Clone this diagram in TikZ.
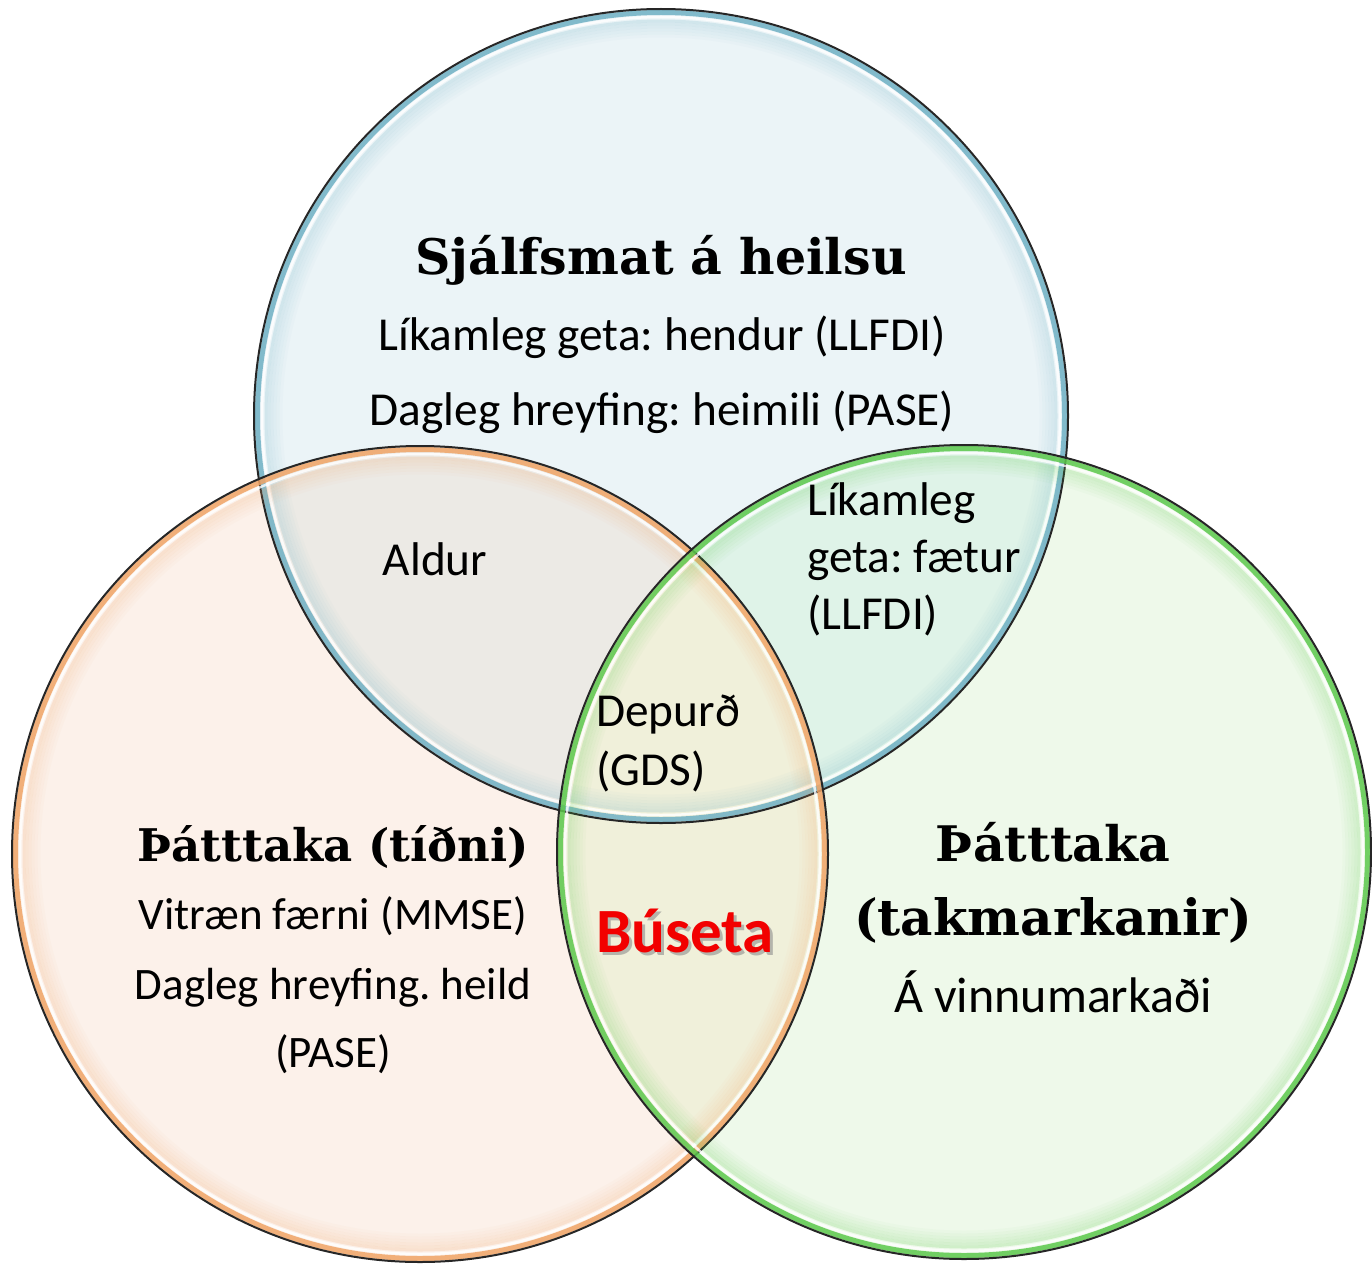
\documentclass[tikz,border=0pt]{standalone}
\usepackage{fontspec}
\setmainfont{Carlito}
\newfontfamily\headfont{DejaVu Serif}
\usepackage{tikz}
\usetikzlibrary{calc}
\frenchspacing

\definecolor{blueFill}{HTML}{EBF4F7}
\definecolor{orangeFill}{HTML}{FCF1EA}
\definecolor{greenFill}{HTML}{EEF9EA}
\definecolor{boFill}{HTML}{ECEAE5}
\definecolor{bgFill}{HTML}{DFF3E8}
\definecolor{ogFill}{HTML}{F0F0DA}
\definecolor{allFill}{HTML}{E3EAD6}
\definecolor{rimBlue}{HTML}{6FB0C4}
\definecolor{rimOrange}{HTML}{F0A466}
\definecolor{rimGreen}{HTML}{5CC84C}
\definecolor{busetaRed}{HTML}{F20000}

\begin{document}
\begin{tikzpicture}[x=1pt,y=-1pt,
  head/.style={font=\headfont\bfseries\fontsize{49}{58}\selectfont,anchor=base,inner sep=0pt},
  body/.style={font=\fontsize{47.3}{56}\selectfont,anchor=base,inner sep=0pt},
  bodyleft/.style={body,anchor=base west}]
\useasboundingbox (0,0) rectangle (1372,1268);

% the three circles
\fill[blueFill] (661,416) circle[radius=407];
\fill[orangeFill] (420,854) circle[radius=408];
\fill[greenFill] (964,852) circle[radius=407];

% overlaps
\begin{scope}
  \clip (661,416) circle[radius=407];
  \fill[boFill] (420,854) circle[radius=408];
  \fill[bgFill] (964,852) circle[radius=407];
  \clip (420,854) circle[radius=408];
  \fill[allFill] (964,852) circle[radius=407];
\end{scope}
\begin{scope}
  \clip (420,854) circle[radius=408];
  \fill[ogFill] (964,852) circle[radius=407];
\end{scope}

% rims
\foreach \cx/\cy/\r/\rc in {661/416/407/rimBlue, 420/854/408/rimOrange, 964/852/407/rimGreen} {
  \foreach \d in {1,...,6}
    \draw[\rc, line width=3, opacity=.24-.035*\d] (\cx,\cy) circle[radius=\r-9-3*\d];
  \draw[\rc, line width=5, opacity=.85] (\cx,\cy) circle[radius=\r-3.5];
  \draw[white, line width=2.5, opacity=.8] (\cx,\cy) circle[radius=\r-8];
  \draw[black!85, line width=2] (\cx,\cy) circle[radius=\r];
}

% top circle
\node[head] (selfhead) at (661,274) {Sjálfsmat á heilsu};
\node[body] (hands) at (662,350) {Líkamleg geta: hendur (LLFDI)};
\node[body] (home) at (662,425) {Dagleg hreyfing: heimili (PASE)};

% left circle
\node[head, font=\headfont\bfseries\fontsize{45}{54}\selectfont] (freqhead) at (333,861) {Þátttaka (tíðni)};
\node[body, font=\fontsize{45}{54}\selectfont] (mmse) at (333,929) {Vitræn færni (MMSE)};
\node[body, font=\fontsize{45}{54}\selectfont] (whole) at (333,999) {Dagleg hreyfing. heild};
\node[body, font=\fontsize{45}{54}\selectfont] (pase) at (333,1067) {(PASE)};

% right circle
\node[head] (limhead) at (1053,861) {Þátttaka};
\node[head, font=\headfont\bfseries\fontsize{50}{58}\selectfont] (limtwo) at (1053,935) {(takmarkanir)};
\node[body, font=\fontsize{50}{58}\selectfont] (work) at (1053,1012) {Á vinnumarkaði};

% overlaps
\node[body] (age) at (435,575) {Aldur};
\node[bodyleft] (legs1) at (807,515) {Líkamleg};
\node[bodyleft] (legs2) at (807,572) {geta: fætur};
\node[bodyleft] (legs3) at (807,629) {(LLFDI)};
\node[bodyleft] (dep1) at (596,726) {Depurð};
\node[bodyleft] (dep2) at (596,785) {(GDS)};
\node[body, font=\bfseries\fontsize{63}{70}\selectfont, text=black!45, opacity=.6] (busetashadow) at (688,955) {Búseta};
\node[body, font=\bfseries\fontsize{63}{70}\selectfont, text=busetaRed] (buseta) at (685,952) {Búseta};
\end{tikzpicture}
\end{document}
